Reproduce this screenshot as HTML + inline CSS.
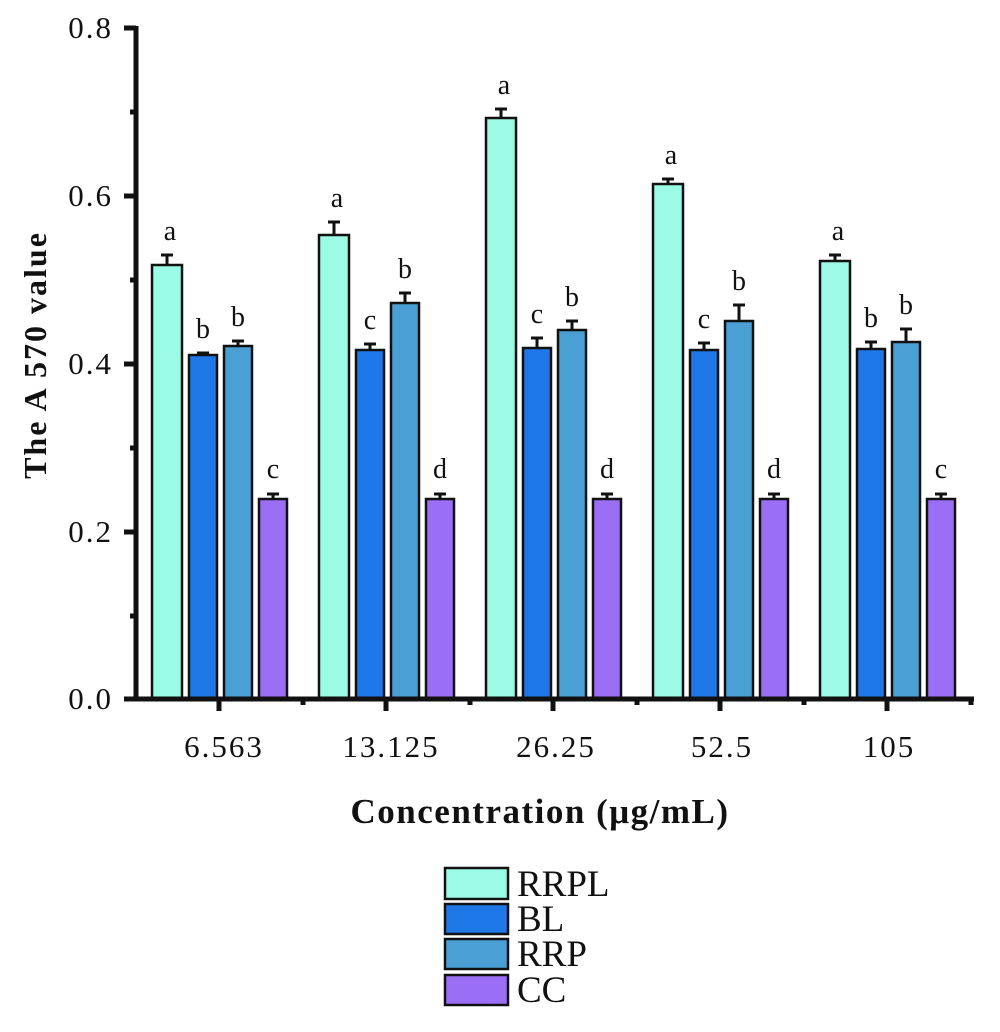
<!DOCTYPE html>
<html><head><meta charset="utf-8"><style>body{margin:0;background:#fff}svg{display:block}text{font-family:"Liberation Serif",serif;fill:#111}</style></head><body>
<svg width="1000" height="1032" viewBox="0 0 1000 1032">
<g stroke="#111" stroke-width="2.5">
<rect x="152" y="265" width="30" height="433" fill="#9cfbe4"/>
<rect x="189" y="355" width="28" height="343" fill="#1f78e8"/>
<rect x="224" y="346" width="28" height="352" fill="#4aa0d4"/>
<rect x="259" y="499" width="28" height="199" fill="#9a6ff5"/>
<rect x="319" y="235" width="30" height="463" fill="#9cfbe4"/>
<rect x="356" y="350" width="28" height="348" fill="#1f78e8"/>
<rect x="391" y="303" width="28" height="395" fill="#4aa0d4"/>
<rect x="426" y="499" width="28" height="199" fill="#9a6ff5"/>
<rect x="486" y="118" width="30" height="580" fill="#9cfbe4"/>
<rect x="523" y="348" width="28" height="350" fill="#1f78e8"/>
<rect x="558" y="330" width="28" height="368" fill="#4aa0d4"/>
<rect x="593" y="499" width="28" height="199" fill="#9a6ff5"/>
<rect x="653" y="184" width="30" height="514" fill="#9cfbe4"/>
<rect x="690" y="350" width="28" height="348" fill="#1f78e8"/>
<rect x="725" y="321" width="28" height="377" fill="#4aa0d4"/>
<rect x="760" y="499" width="28" height="199" fill="#9a6ff5"/>
<rect x="820" y="261" width="30" height="437" fill="#9cfbe4"/>
<rect x="857" y="349" width="28" height="349" fill="#1f78e8"/>
<rect x="892" y="342" width="28" height="356" fill="#4aa0d4"/>
<rect x="927" y="499" width="28" height="199" fill="#9a6ff5"/>
</g>
<g stroke="#111" stroke-width="3" fill="none">
<path d="M167 265V255M161 255H173M203 355V353M197 353H209M238 346V341M232 341H244M273 499V494M267 494H279"/>
<path d="M334 235V222M328 222H340M370 350V344M364 344H376M405 303V293M399 293H411M440 499V494M434 494H446"/>
<path d="M501 118V109M495 109H507M537 348V338M531 338H543M572 330V321M566 321H578M607 499V494M601 494H613"/>
<path d="M668 184V179M662 179H674M704 350V343M698 343H710M739 321V305M733 305H745M774 499V494M768 494H780"/>
<path d="M835 261V255M829 255H841M871 349V342M865 342H877M906 342V329M900 329H912M941 499V494M935 494H947"/>
</g>
<g font-size="28" text-anchor="middle">
<text x="170" y="240">a</text><text x="203" y="338">b</text><text x="238" y="326">b</text><text x="273" y="478">c</text>
<text x="337" y="207">a</text><text x="370" y="329">c</text><text x="405" y="278">b</text><text x="440" y="478">d</text>
<text x="504" y="94">a</text><text x="537" y="323">c</text><text x="572" y="306">b</text><text x="607" y="478">d</text>
<text x="671" y="164">a</text><text x="704" y="328">c</text><text x="739" y="290">b</text><text x="774" y="478">d</text>
<text x="838" y="240">a</text><text x="871" y="327">b</text><text x="906" y="314">b</text><text x="941" y="478">c</text>
</g>
<g stroke="#111" stroke-width="5" fill="none">
<path d="M136 26V700"/>
<path d="M133 699H974"/>
<path d="M124 28H136M124 196H136M124 364H136M124 532H136M124 699H136"/>
<path d="M130 112H136M130 280H136M130 448H136M130 616H136"/>
<path d="M219 699V711M386 699V711M553 699V711M720 699V711M887 699V711"/>
<path d="M303 699V705M470 699V705M637 699V705M804 699V705M971 699V705"/>
</g>
<g font-size="31" text-anchor="end" letter-spacing="2">
<text x="113" y="38">0.8</text><text x="113" y="206">0.6</text><text x="113" y="374">0.4</text><text x="113" y="542">0.2</text><text x="113" y="709">0.0</text>
</g>
<g font-size="31" text-anchor="middle" letter-spacing="2">
<text x="224" y="757">6.563</text><text x="391" y="757">13.125</text><text x="556" y="757">26.25</text><text x="722" y="757">52.5</text><text x="889" y="757">105</text>
</g>
<text x="540" y="823" font-size="35" font-weight="bold" text-anchor="middle" letter-spacing="1.5">Concentration (μg/mL)</text>
<text transform="translate(46,355) rotate(-90)" font-size="32" font-weight="bold" text-anchor="middle" letter-spacing="2">The A 570 value</text>
<g stroke="#111" stroke-width="2.5">
<rect x="445" y="868" width="63" height="31" fill="#9cfbe4"/>
<rect x="445" y="904" width="63" height="30" fill="#1f78e8"/>
<rect x="445" y="939" width="63" height="30" fill="#4aa0d4"/>
<rect x="445" y="975" width="63" height="30" fill="#9a6ff5"/>
</g>
<g font-size="37">
<text x="517" y="896">RRPL</text><text x="517" y="931">BL</text><text x="517" y="966">RRP</text><text x="517" y="1002">CC</text>
</g>
</svg>
</body></html>
